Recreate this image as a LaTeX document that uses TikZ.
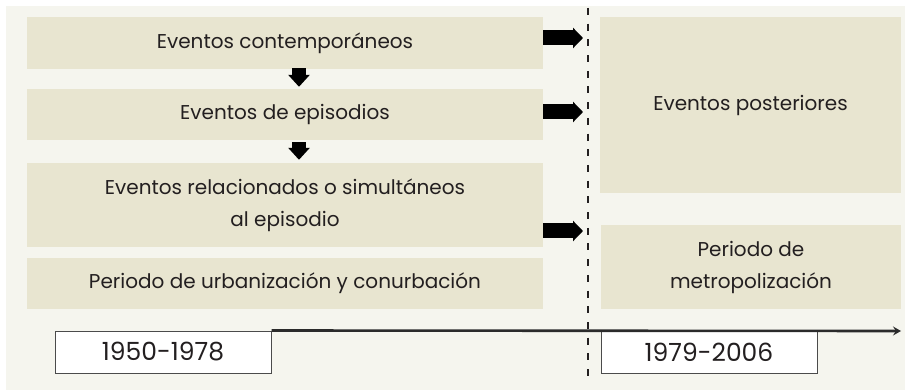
\documentclass[tikz,border=0pt]{standalone}
\usepackage{fontspec}
\setmainfont{Poppins}
\usetikzlibrary{arrows.meta,calc}
\definecolor{bgc}{HTML}{F5F5EE}
\definecolor{boxc}{HTML}{E8E5D0}
\definecolor{txtc}{HTML}{231F20}
\definecolor{linec}{HTML}{2B2B2B}
\tikzset{
  evbox/.style={fill=boxc, draw=none, inner sep=0pt, text=txtc, align=center,
    font=\fontsize{20}{32}\selectfont},
  datebox/.style={fill=white, draw=linec!85, line width=1pt, inner sep=0pt,
    text=txtc, font=\fontsize{25}{28}\selectfont},
  bigarrow/.style={line width=15pt, -{Triangle[length=10pt,width=20pt]}},
  downarrow/.style={line width=14pt, -{Triangle[length=12pt,width=21pt]}},
  divider/.style={draw=txtc, line width=2.2pt, dash pattern=on 7pt off 8.7pt},
  timeline/.style={draw=linec, line width=2.6pt, -{Stealth[length=8pt,width=9pt,inset=3pt]}}
}
\begin{document}
\begin{tikzpicture}[x=1pt,y=-1pt]
\useasboundingbox (0,0) rectangle (905,390);
\fill[bgc] (6,6) rectangle (905,390);
% left boxes
\node[evbox, minimum width=516, minimum height=52] (b1) at (285,43) {Eventos contemporáneos};
\node[evbox, minimum width=516, minimum height=51] (b2) at (285,114.5) {Eventos de episodios};
\node[evbox, minimum width=516, minimum height=84] (b3) at (285,205) {Eventos relacionados o simultáneos\\al episodio};
\node[evbox, minimum width=516, minimum height=51] (b4) at (285,283.5) {Periodo de urbanización y conurbación};
% right boxes
\node[evbox, minimum width=301, minimum height=176] (r1) at (750.5,105) {Eventos posteriores};
\node[evbox, minimum width=300, minimum height=84] (r2) at (751,267) {Periodo de\\metropolización};
% date boxes
\node[datebox, minimum width=216, minimum height=42] (d1) at (163,352) {1950-1978};
\node[datebox, minimum width=216, minimum height=42] (d2) at (709,352) {1979-2006};
% timeline
\coordinate (tend) at (901,331);
\draw[timeline] (d1.north east) -- (tend);
% divider
\coordinate (vtop) at (588,8);
\coordinate (vbot) at (588,378);
\draw[divider] (vtop) -- (vbot);
% right arrows
\coordinate (a1) at (583,38);
\coordinate (a2) at (583,112);
\coordinate (a3) at (583,231);
\draw[bigarrow] (b1.east |- a1) -- (a1);
\draw[bigarrow] (b2.east |- a2) -- (a2);
\draw[bigarrow] (b3.east |- a3) -- (a3);
% down arrows
\coordinate (x1) at (299,0);
\draw[downarrow] (x1 |- b1.south) ++(0,-1) -- ($(x1 |- b2.north)+(0,-2)$);
\draw[downarrow] (x1 |- b2.south) ++(0,2) -- ($(x1 |- b3.north)+(0,-3)$);
\end{tikzpicture}
\end{document}
